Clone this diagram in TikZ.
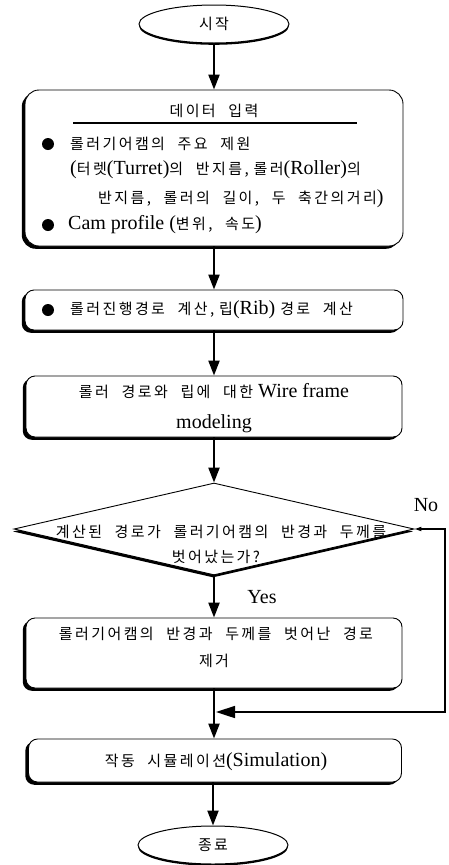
\documentclass[tikz,border=0pt]{standalone}
\usepackage{fontspec}
\setmainfont{Liberation Serif}
\newfontfamily\krf[LetterSpace=16,WordSpace=2.2]{Noto Sans CJK KR}
\newcommand\KR[1]{{\fontsize{15}{20}\krf #1}}
\usetikzlibrary{shapes.geometric,arrows.meta,shadows}
\begin{document}
\begin{tikzpicture}[x=1pt,y=-1pt,
  every node/.style={font=\fontsize{20}{24}\selectfont},
  term/.style={ellipse, draw, line width=1pt, fill=white, minimum width=150pt, minimum height=38pt, inner sep=0pt,
    drop shadow={shadow xshift=0pt, shadow yshift=-1.8pt, opacity=1, fill=black}},
  procbox/.style={rectangle, rounded corners=9pt, draw, line width=0.9pt, fill=white, inner sep=0pt,
    drop shadow={shadow xshift=-3.2pt, shadow yshift=-2.8pt, opacity=1, fill=black}},
  decision/.style={diamond, draw, line width=0.9pt, fill=white, inner sep=0pt, minimum width=400pt, minimum height=92pt,
    drop shadow={shadow xshift=-1pt, shadow yshift=-2.5pt, opacity=1, fill=black}},
  txt/.style={inner sep=0pt},
  dot/.style={circle, fill=black, minimum size=12pt, inner sep=0pt},
  flow/.style={line width=2.2pt, -{Triangle[length=15pt,width=11pt]}},
  fb/.style={line width=1.6pt, {Triangle[length=7pt,width=4pt]}-{Triangle[length=19pt,width=12pt]}}
]
\useasboundingbox (0,0) rectangle (448,865);

% start
\node[term] (start) at (214,24) {\KR{시작}};

% data input box
\node[procbox, rounded corners=14pt, minimum width=378pt, minimum height=156pt] (input) at (214,168) {};
\node[txt] (hdr) at (214,111) {\KR{데이터 입력}};
\coordinate (ulA) at (73,123);
\coordinate (ulB) at (357,123);
\draw[line width=1.4pt] (ulA) -- (ulB);
\node[dot] (b1) at (48,144) {};
\node[txt, anchor=west] (l1) at (70,144) {\KR{롤러기어캠의 주요 제원}};
\node[txt, anchor=west] (l2) at (70,170) {(\KR{터렛}(Turret)\KR{의 반지름,} \KR{롤러}(Roller)\KR{의}};
\node[txt, anchor=west] (l3) at (98,199) {\KR{반지름, 롤러의 길이, 두 축간의거리})};
\node[dot] (b4) at (48,225) {};
\node[txt, anchor=west] (l4) at (68,225) {Cam profile (\KR{변위, 속도})};

% path calculation
\node[procbox, minimum width=378pt, minimum height=40pt] (calc) at (214,310) {};
\node[dot] (b2) at (48,310) {};
\node[txt, anchor=west] (l5) at (70,310) {\KR{롤러진행경로 계산,} \KR{립}(Rib) \KR{경로 계산}};

% wire frame
\node[procbox, minimum width=376pt, minimum height=61pt] (wire) at (214,406.5) {};
\node[txt] (w1) at (214,391) {\KR{롤러 경로와 립에 대한} Wire frame};
\node[txt] (w2) at (214,424) {modeling};

% decision
\node[decision] (dec) at (214,529) {};
\node[txt] (d1) at (221,532) {\KR{계산된 경로가 롤러기어캠의 반경과 두께를}};
\node[txt] (d2) at (216,557) {\KR{벗어났는가?}};

% remove
\node[procbox, minimum width=376pt, minimum height=70pt] (remove) at (214,653) {};
\node[txt] (r1) at (216,634) {\KR{롤러기어캠의 반경과 두께를 벗어난 경로}};
\node[txt] (r2) at (214,661) {\KR{제거}};

% simulation
\node[procbox, minimum width=373pt, minimum height=43pt] (sim) at (215,760.5) {};
\node[txt] (s1) at (216,762) {\KR{작동 시뮬레이션}(Simulation)};

% end
\node[term] (end) at (213,845) {\KR{종료}};

% labels
\node[txt] (yes) at (262,597) {Yes};
\node[txt] (no) at (426,505) {No};

% connectors
\draw[flow] (start) -- (input);
\draw[flow] (input) -- (calc);
\draw[flow] (calc) -- (wire);
\draw[flow] (wire) -- (dec);
\draw[flow] (dec) -- (remove);
\draw[flow] (remove.south) -- (remove.south |- sim.north);
\draw[flow] (sim.south -| end.north) -- (end);
\coordinate (fbR) at (445,529);
\coordinate (fbB) at (445,712);
\coordinate (merge) at (216,712);
\draw[fb] (dec.east) -- (fbR) -- (fbB) -- (merge);
\end{tikzpicture}
\end{document}
